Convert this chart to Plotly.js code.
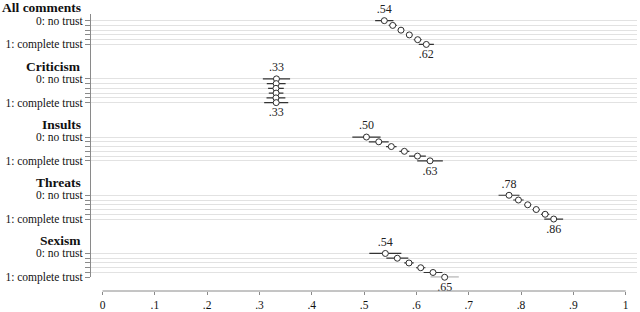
<!DOCTYPE html>
<html>
<head>
<meta charset="utf-8">
<script src="https://cdn.plot.ly/plotly-3.0.1.min.js"></script>
<style>html,body{margin:0;padding:0;background:#fff}#chart{width:640px;height:312px}</style>
</head>
<body>
<div id="chart"></div>
<script>
// ---- data ----
var groups = ["All comments", "Criticism", "Insults", "Threats", "Sexism"];
var rowLabels = ["0: no trust", "", "", "", "", "1: complete trust"];
var xTickVals = [0, 0.1, 0.2, 0.3, 0.4, 0.5, 0.6, 0.7, 0.8, 0.9, 1];
var xTickText = ["0", ".1", ".2", ".3", ".4", ".5", ".6", ".7", ".8", ".9", "1"];

var allComments = [0.5386, 0.5547, 0.5705, 0.5864, 0.6024, 0.6189];
var allCommentsCI = [0.0175, 0.0077, 0.006, 0.006, 0.0075, 0.0145];
var criticism = [0.3325, 0.3320, 0.3315, 0.3318, 0.3315, 0.3320];
var criticismCI = [0.026, 0.018, 0.015, 0.014, 0.018, 0.023];
var insults = [0.5045, 0.528, 0.552, 0.577, 0.602, 0.626];
var insultsCI = [0.027, 0.019, 0.010, 0.0095, 0.016, 0.0245];
var threats = [0.777, 0.795, 0.8127, 0.829, 0.846, 0.8624];
var threatsCI = [0.020, 0.010, 0.007, 0.007, 0.008, 0.018];
var sexism = [0.5406, 0.5635, 0.5858, 0.6082, 0.6317, 0.654];
var sexismCI = [0.0306, 0.021, 0.009, 0.009, 0.018, 0.027];

var estimates = [allComments, criticism, insults, threats, sexism];
var halfWidths = [allCommentsCI, criticismCI, insultsCI, threatsCI, sexismCI];

// ---- layout geometry ----
var GAP = 12.24;          // y-units between group starts
var Y_TOP = -1.4, Y_BOT = 4 * GAP + 5;
var PLOT_TOP = 14, PLOT_BOT = 291, PX_PER_UNIT = 4.755;
function paperY(y) { return (PLOT_BOT - (PLOT_TOP + (y - Y_TOP) * PX_PER_UNIT)) / (PLOT_BOT - PLOT_TOP); }
var domBottom = paperY(Y_BOT);

var FONT = "Liberation Serif, Times New Roman, serif";
function fmt(v) { return v.toFixed(2).replace(/^0/, ""); }

var traces = [];
var tickVals = [], tickText = [];
var annotations = [];
groups.forEach(function (name, g) {
  var ys = rowLabels.map(function (_, r) { return g * GAP + r; });
  ys.forEach(function (y, r) { tickVals.push(y); tickText.push(rowLabels[r]); });
  var vals = estimates[g];
  var last = vals.length - 1;
  traces.push({
    type: "scatter",
    mode: "markers+text",
    x: vals,
    y: ys,
    text: vals.map(function (v, i) { return (i === 0 || i === last) ? fmt(v) : ""; }),
    textposition: vals.map(function (v, i) { return i === 0 ? "top center" : "bottom center"; }),
    textfont: { family: FONT, size: 12, color: "#222" },
    marker: { symbol: "circle", size: 6, color: "#ffffff", line: { color: "#2e2e2e", width: 1 } },
    error_x: { type: "data", array: halfWidths[g], symmetric: true, color: "#333333", thickness: 1.2, width: 0 },
    showlegend: false,
    hoverinfo: "skip",
    cliponaxis: false
  });
  annotations.push({
    xref: "paper", yref: "paper",
    x: -0.0147, y: paperY(g * GAP - 2.7),
    xanchor: "right", yanchor: "middle",
    text: "<b>" + name + "</b>",
    showarrow: false,
    font: { family: FONT, size: 13.5, color: "#111" }
  });
});

var layout = {
  width: 640, height: 312,
  margin: { l: 91, r: 3, t: PLOT_TOP, b: 312 - PLOT_BOT, pad: 0 },
  paper_bgcolor: "#ffffff",
  plot_bgcolor: "#ffffff",
  font: { family: FONT, size: 11.5, color: "#111" },
  xaxis: {
    range: [-11.5 / 523.2, 1 + 11.3 / 523.2],
    anchor: "free", position: 0,
    showline: false, showgrid: false, zeroline: false,
    ticks: "outside", ticklen: 3, tickwidth: 1, tickcolor: "#8a8a8a",
    tickvals: xTickVals, ticktext: xTickText,
    tickfont: { family: FONT, size: 11.5, color: "#111" }
  },
  yaxis: {
    domain: [domBottom, 1],
    range: [Y_BOT, Y_TOP],
    showline: true, linecolor: "#8a8a8a", linewidth: 1,
    showgrid: true, gridcolor: "#e2e2e2", gridwidth: 1,
    zeroline: false,
    ticks: "outside", ticklen: 5, tickwidth: 1, tickcolor: "#8a8a8a",
    tickvals: tickVals, ticktext: tickText,
    tickfont: { family: FONT, size: 11.5, color: "#111" }
  },
  shapes: [{
    type: "line", xref: "x", yref: "paper",
    x0: xTickVals[0], x1: xTickVals[xTickVals.length - 1], y0: 0, y1: 0,
    line: { color: "#8a8a8a", width: 1 }
  }],
  annotations: annotations
};

Plotly.newPlot("chart", traces, layout, { displayModeBar: false, staticPlot: true });
</script>
</body>
</html>
